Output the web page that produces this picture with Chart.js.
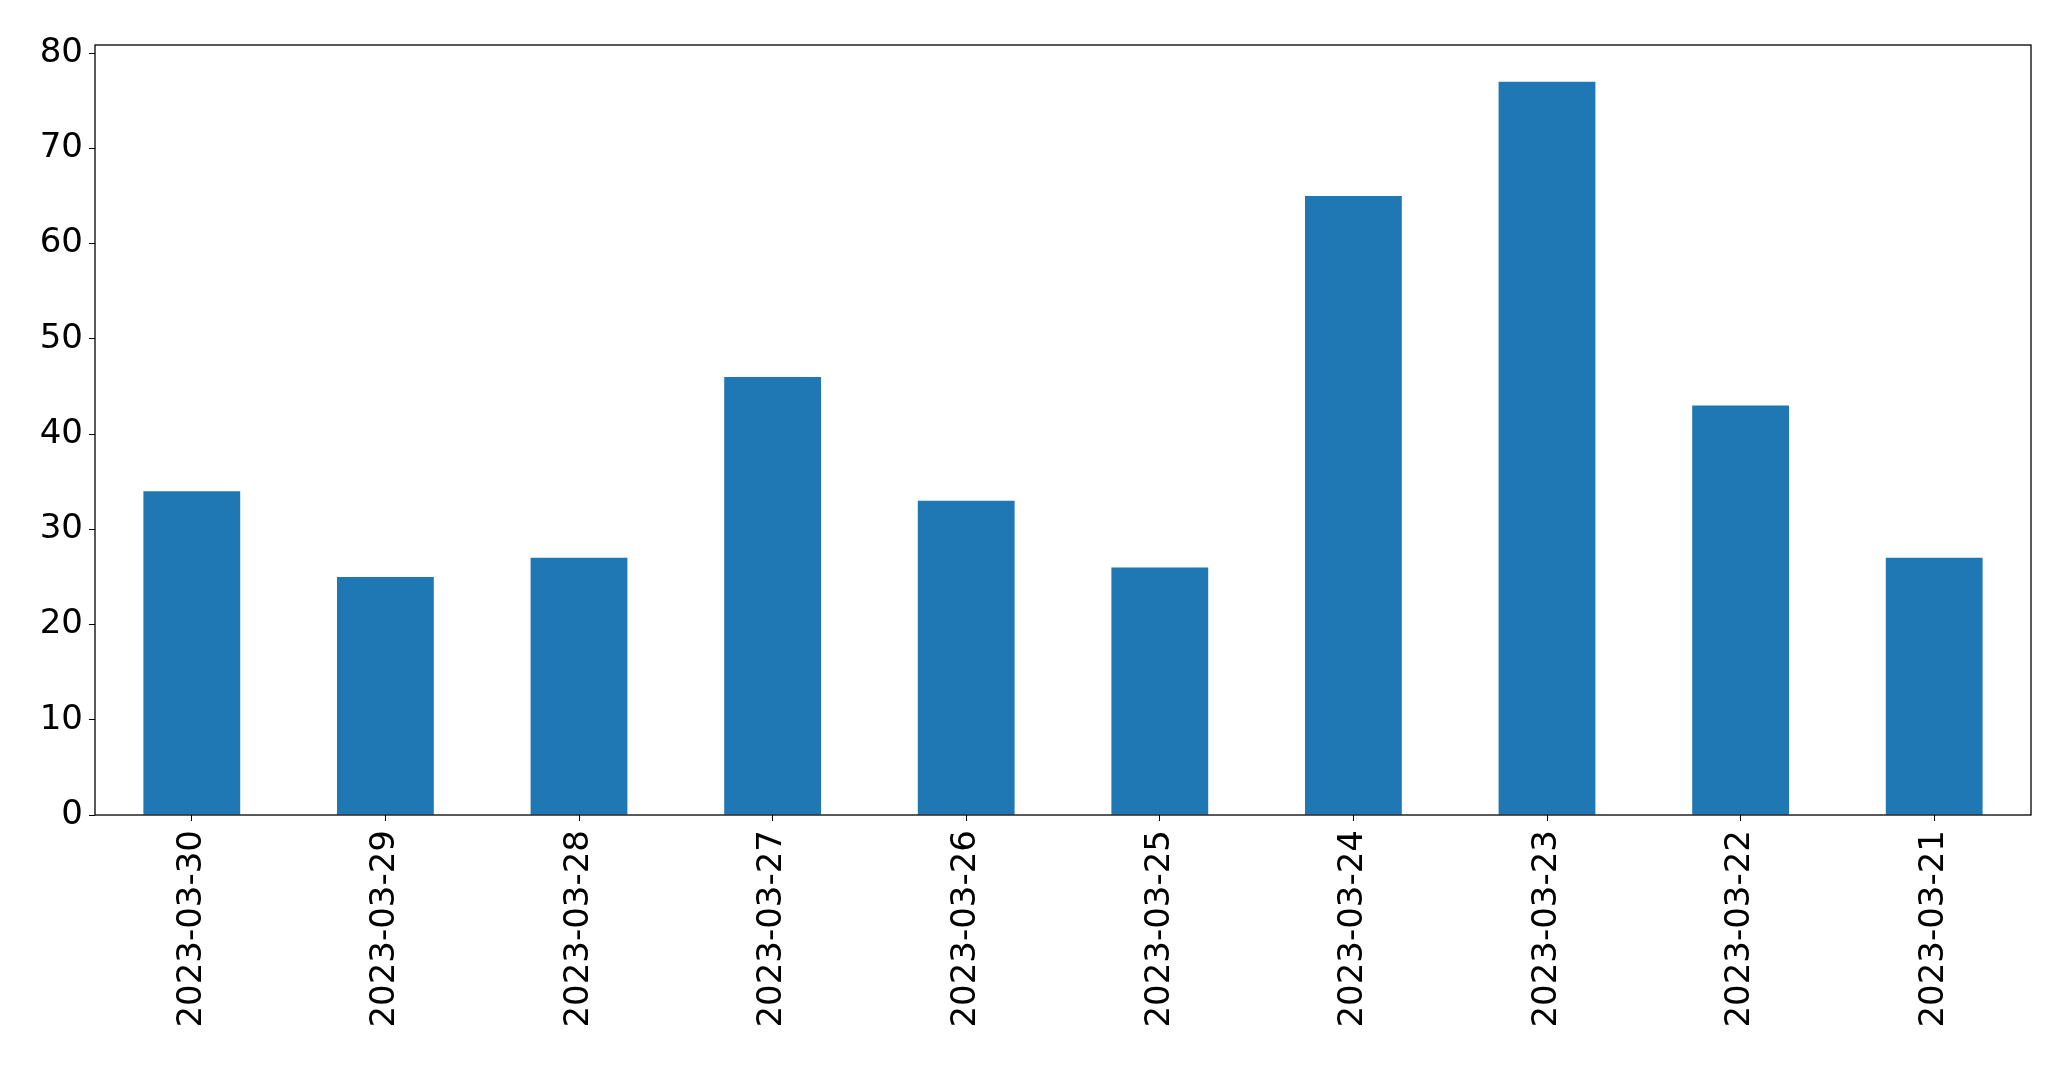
<!DOCTYPE html>
<html>
<head>
<meta charset="utf-8">
<script src="https://cdn.jsdelivr.net/npm/chart.js@4"></script>
<style>
html,body{margin:0;padding:0;background:#fff;}
#wrap{width:2071px;height:1067px;}
</style>
</head>
<body>
<div id="wrap"><canvas id="c" width="2071" height="1067"></canvas></div>
<script>
const categories = ["2023-03-30","2023-03-29","2023-03-28","2023-03-27","2023-03-26","2023-03-25","2023-03-24","2023-03-23","2023-03-22","2023-03-21"];
const values = [34, 25, 27, 46, 33, 26, 65, 77, 43, 27];
const yTicks = [0, 10, 20, 30, 40, 50, 60, 70, 80];
const yMax = 80.85;

const frame = {
  id: 'frame',
  afterDraw(chart) {
    const a = chart.chartArea, ctx = chart.ctx;
    ctx.save();
    ctx.strokeStyle = '#000';
    ctx.lineWidth = 1.3;
    ctx.strokeRect(a.left, a.top, a.right - a.left, a.bottom - a.top);
    ctx.restore();
  }
};

Chart.defaults.font.family = '"DejaVu Sans", sans-serif';
Chart.defaults.color = '#000';

new Chart(document.getElementById('c'), {
  type: 'bar',
  data: {
    labels: categories,
    datasets: [{
      data: values,
      backgroundColor: '#1f77b4',
      borderWidth: 0,
      categoryPercentage: 1.0,
      barPercentage: 0.5
    }]
  },
  options: {
    responsive: false,
    animation: false,
    devicePixelRatio: 1,
    layout: { padding: { top: 45, right: 40, left: 0, bottom: 0 } },
    plugins: { legend: { display: false }, tooltip: { enabled: false } },
    scales: {
      x: {
        offset: true,
        grid: { drawOnChartArea: false, drawTicks: true, tickLength: 6, color: '#000', offset: false },
        border: { display: false },
        ticks: { minRotation: 90, maxRotation: 90, autoSkip: false, padding: 9, font: { size: 34 }, color: '#000' },
        afterFit(s) { s.height = 252; }
      },
      y: {
        min: 0,
        max: yMax,
        grid: { drawOnChartArea: false, drawTicks: true, tickLength: 6, color: '#000' },
        border: { display: false },
        ticks: { stepSize: 10, padding: 6, font: { size: 34 }, color: '#000' },
        afterBuildTicks(s) { s.ticks = yTicks.map(v => ({ value: v })); },
        afterFit(s) { s.width = 95; }
      }
    }
  },
  plugins: [frame]
});
</script>
</body>
</html>
